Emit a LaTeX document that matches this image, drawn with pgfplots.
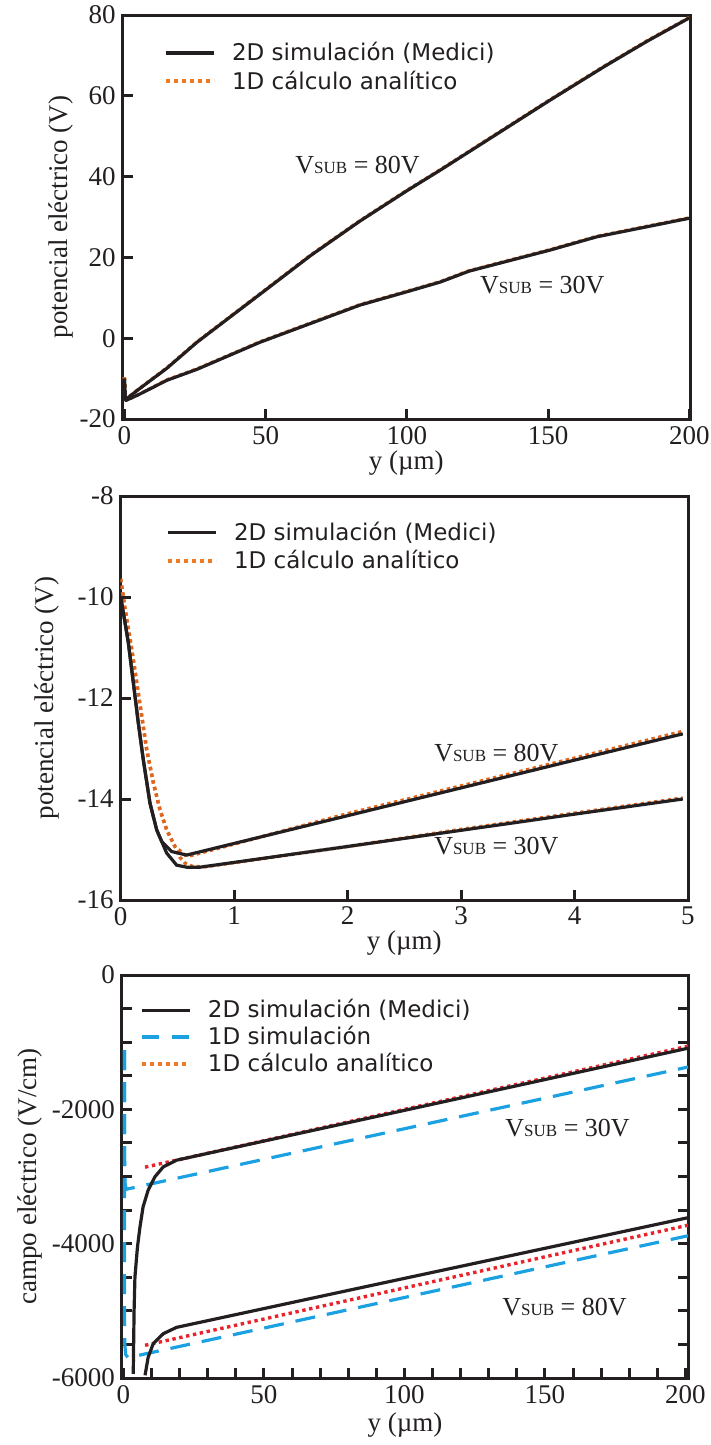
\documentclass[border=0pt]{standalone}
\usepackage{fontspec}
\setmainfont{Liberation Serif}
\newfontfamily\legfont{DejaVu Sans}
\usepackage{pgfplots}
\pgfplotsset{compat=1.18}
\definecolor{ink}{HTML}{231F20}
\definecolor{orgA}{HTML}{E0651E}
\definecolor{orgL}{HTML}{F07A22}
\definecolor{redD}{HTML}{E8232B}
\definecolor{blu}{HTML}{1BA1E2}
\newcommand{\vsub}[1]{V{\fontsize{8.5}{9}\selectfont SUB} = #1V}
\pgfplotsset{
  myaxis/.style={
    scale only axis,
    axis line style={ink, line width=1.5pt},
    every tick/.style={ink, line width=1.5pt},
    major tick length=5pt, minor tick length=5pt,
    tick align=inside,
    xtick pos=bottom, ytick pos=left,
    tick label style={font=\fontsize{13.5}{14}\selectfont, text=ink},
    label style={font=\fontsize{13.5}{14}\selectfont, text=ink},
    legend style={draw=none, fill=none, inner sep=0pt, outer sep=0pt,
      font=\legfont\fontsize{11.5}{12}\selectfont, text=ink,
      nodes={inner sep=0pt}, column sep=8pt, row sep=3.5pt},
    legend cell align=left,
    legend image code/.code={\draw[##1] (0pt,0pt) -- (24pt,0pt);},
    solidL/.style={ink, line width=1.6pt},
    dotA/.style={orgA, line width=1.7pt, dash pattern=on 1.7pt off 1.7pt},
    dotL/.style={orgL, line width=2pt, dash pattern=on 2pt off 2pt},
    dotR/.style={redD, line width=1.7pt, dash pattern=on 1.7pt off 1.8pt},
    dashB/.style={blu, line width=1.6pt, dash pattern=on 10pt off 6pt},
  }
}
\begin{document}
\begin{tikzpicture}
\useasboundingbox (0,0) rectangle (355.5pt,-722.5pt);
% ---------------- Panel 1 ----------------
\begin{axis}[myaxis,
  at={(61.35pt,-209.5pt)}, anchor=south west,
  width=283.65pt, height=202pt,
  xmin=-0.6, xmax=200.2, ymin=-20, ymax=80,
  xtick={0,50,100,150,200}, xticklabels={0,50,100,150,200},
  ytick={-20,0,20,40,60,80}, yticklabels={-20,0,20,40,60,80},
  xlabel={y (µm)}, ylabel={potencial eléctrico (V)},
  xlabel style={at={(axis description cs:0.5,-0.109)}, anchor=center},
  ylabel style={at={(axis description cs:-0.109,0.5)}, anchor=center},
  legend style={at={(axis description cs:0.0728,0.871)}, anchor=west},
]
\addlegendimage{solidL}\addlegendentry{2D simulación (Medici)}
\addlegendimage{dotL}\addlegendentry{1D cálculo analítico}
\addplot[dotA, forget plot] coordinates {(0,-9.64) (0.038,-10.23) (0.097,-11.03) (0.141,-11.69) (0.185,-12.35) (0.229,-13.02) (0.288,-13.68) (0.346,-14.21) (0.405,-14.61) (0.478,-14.94) (0.567,-15.11) (0.62,-15.12) (2.0,-14.29) (3.0,-13.74) (4.0,-13.19) (4.954,-12.66) (15.1,-7.3) (25.7,-0.9) (50.1,12.1) (66,20.6) (83.4,29.1) (100,36.6) (111.8,41.7) (150.6,59.0) (170,67.4) (185,73.6) (200,79.4)};
\addplot[dotA, forget plot] coordinates {(0,-9.64) (0.038,-10.23) (0.097,-11.03) (0.141,-11.69) (0.185,-12.35) (0.229,-13.02) (0.288,-13.68) (0.346,-14.21) (0.405,-14.61) (0.478,-14.94) (0.52,-15.15) (0.567,-15.27) (0.64,-15.34) (0.75,-15.34) (2.0,-14.94) (3.0,-14.60) (4.0,-14.28) (4.954,-13.98) (15.1,-10.3) (25.7,-7.6) (48,-0.9) (83.4,8.3) (100,11.6) (111.8,14.0) (122,16.7) (150.6,21.9) (167.2,25.2) (200,29.8)};
\addplot[solidL, forget plot] coordinates {(0,-10.0) (0.067,-10.9) (0.111,-11.69) (0.155,-12.49) (0.199,-13.22) (0.258,-14.08) (0.317,-14.61) (0.361,-14.84) (0.449,-15.04) (0.581,-15.11) (2.0,-14.33) (3.0,-13.78) (4.0,-13.23) (4.954,-12.71) (15.1,-7.4) (25.7,-1.0) (50.1,12.0) (66,20.5) (83.4,29.0) (100,36.5) (111.8,41.6) (150.6,58.9) (170,67.3) (185,73.5) (200,79.3)};
\addplot[solidL, forget plot] coordinates {(0,-10.0) (0.067,-10.9) (0.111,-11.69) (0.155,-12.49) (0.199,-13.22) (0.258,-14.08) (0.317,-14.61) (0.361,-14.84) (0.405,-15.07) (0.493,-15.31) (0.581,-15.35) (0.699,-15.35) (2.0,-14.94) (3.0,-14.62) (4.0,-14.30) (4.954,-14.0) (15.1,-10.4) (25.7,-7.7) (48,-1.0) (83.4,8.2) (100,11.5) (111.8,13.9) (122,16.6) (150.6,21.8) (167.2,25.1) (200,29.7)};
\node[anchor=west, text=ink, font=\fontsize{13}{14}\selectfont, inner sep=0pt] at (axis cs:60.4,42.8) {\vsub{80}};
\node[anchor=west, text=ink, font=\fontsize{13}{14}\selectfont, inner sep=0pt] at (axis cs:125.8,13.1) {\vsub{30}};
\end{axis}
% ---------------- Panel 2 ----------------
\begin{axis}[myaxis,
  at={(60.35pt,-450pt)}, anchor=south west,
  width=283.65pt, height=202pt,
  xmin=0, xmax=5, ymin=-16, ymax=-8,
  xtick={0,1,2,3,4,5}, xticklabels={0,1,2,3,4,5},
  ytick={-16,-14,-12,-10,-8}, yticklabels={-16,-14,-12,-10,-8},
  xlabel={y (µm)}, ylabel={potencial eléctrico (V)},
  xlabel style={at={(axis description cs:0.5,-0.107)}, anchor=center},
  ylabel style={at={(axis description cs:-0.130,0.5)}, anchor=center},
  legend style={at={(axis description cs:0.0799,0.874)}, anchor=west},
]
\addlegendimage{solidL}\addlegendentry{2D simulación (Medici)}
\addlegendimage{dotL}\addlegendentry{1D cálculo analítico}
\addplot[dotA, forget plot] coordinates {(0,-9.64) (0.038,-10.23) (0.097,-11.03) (0.141,-11.69) (0.185,-12.35) (0.229,-13.02) (0.288,-13.68) (0.346,-14.21) (0.405,-14.61) (0.478,-14.94) (0.567,-15.11) (0.62,-15.12) (2.0,-14.29) (3.0,-13.74) (4.0,-13.19) (4.954,-12.66)};
\addplot[dotA, forget plot] coordinates {(0,-9.64) (0.038,-10.23) (0.097,-11.03) (0.141,-11.69) (0.185,-12.35) (0.229,-13.02) (0.288,-13.68) (0.346,-14.21) (0.405,-14.61) (0.478,-14.94) (0.52,-15.15) (0.567,-15.27) (0.64,-15.34) (0.75,-15.34) (2.0,-14.94) (3.0,-14.60) (4.0,-14.28) (4.954,-13.98)};
\addplot[solidL, forget plot] coordinates {(0,-10.0) (0.067,-10.9) (0.111,-11.69) (0.155,-12.49) (0.199,-13.22) (0.258,-14.08) (0.317,-14.61) (0.361,-14.84) (0.449,-15.04) (0.581,-15.11) (2.0,-14.33) (3.0,-13.78) (4.0,-13.23) (4.954,-12.71)};
\addplot[solidL, forget plot] coordinates {(0,-10.0) (0.067,-10.9) (0.111,-11.69) (0.155,-12.49) (0.199,-13.22) (0.258,-14.08) (0.317,-14.61) (0.361,-14.84) (0.405,-15.07) (0.493,-15.31) (0.581,-15.35) (0.699,-15.35) (2.0,-14.94) (3.0,-14.62) (4.0,-14.30) (4.954,-14.0)};
\node[anchor=west, text=ink, font=\fontsize{13}{14}\selectfont, inner sep=0pt] at (axis cs:2.76,-13.08) {\vsub{80}};
\node[anchor=west, text=ink, font=\fontsize{13}{14}\selectfont, inner sep=0pt] at (axis cs:2.76,-14.94) {\vsub{30}};
\end{axis}
% ---------------- Panel 3 ----------------
\begin{axis}[myaxis,
  at={(61pt,-689pt)}, anchor=south west,
  width=283pt, height=201.5pt,
  xmin=-0.5, xmax=200.9, ymin=-6000, ymax=0,
  xtick={0,50,100,150,200}, xticklabels={0,50,100,150,200},
  minor xtick={10,20,30,40,60,70,80,90,110,120,130,140,160,170,180,190},
  ytick={-6000,-4000,-2000,0}, yticklabels={-6000,-4000,-2000,0},
  minor ytick={-5500,-5000,-4500,-3500,-3000,-2500,-1500,-1000,-500},
  ytick pos=both, yticklabel pos=left,
  xlabel={y (µm)}, ylabel={campo eléctrico (V/cm)},
  xlabel style={at={(axis description cs:0.5,-0.117)}, anchor=center},
  ylabel style={at={(axis description cs:-0.163,0.5)}, anchor=center},
  legend style={at={(axis description cs:0.0318,0.846)}, anchor=west, row sep=2.75pt},
]
\addlegendimage{solidL}\addlegendentry{2D simulación (Medici)}
\addlegendimage{blu, line width=1.6pt, dash pattern=on 8.5pt off 6.5pt}\addlegendentry{1D simulación}
\addlegendimage{dotL}\addlegendentry{1D cálculo analítico}
\addplot[dashB, forget plot] coordinates {(0.4,-1117) (0.4,-2000) (0.45,-2900) (0.6,-3100) (1.0,-3190) (2.3,-3178) (200.9,-1370)};
\addplot[dashB, forget plot] coordinates {(0.4,-1117) (0.4,-3000) (0.4,-5000) (0.5,-5500) (0.8,-5650) (1.7,-5700) (3.5,-5680) (200.9,-3882)};
\addplot[dotR, forget plot] coordinates {(7.7,-2861) (200.9,-1060)};
\addplot[dotR, forget plot] coordinates {(7.7,-5513) (200.9,-3725)};
\addplot[solidL, forget plot] coordinates {(3.5,-5940) (3.8,-5000) (4.1,-4500) (5.0,-4050) (5.9,-3751) (7.0,-3452) (8.8,-3204) (11.2,-3005) (14.2,-2856) (18.9,-2757) (84.2,-2160) (200.9,-1090)};
\addplot[solidL, forget plot] coordinates {(7.7,-5960) (8.8,-5693) (10.6,-5489) (14.2,-5340) (18.9,-5246) (84.2,-4658) (200.9,-3613)};
\node[anchor=west, text=ink, font=\fontsize{13}{14}\selectfont, inner sep=0pt] at (axis cs:135.8,-2280) {\vsub{30}};
\node[anchor=west, text=ink, font=\fontsize{13}{14}\selectfont, inner sep=0pt] at (axis cs:134.7,-4947) {\vsub{80}};
\end{axis}
\end{tikzpicture}
\end{document}
